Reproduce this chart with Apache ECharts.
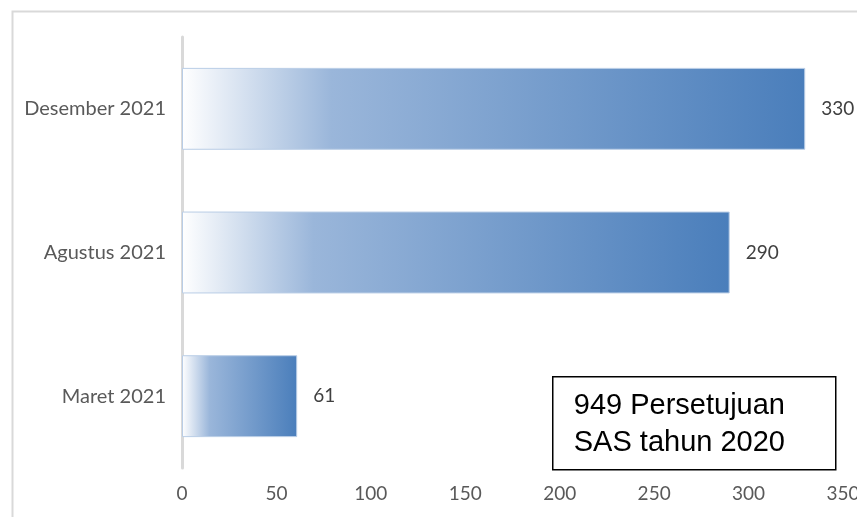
<!DOCTYPE html>
<html>
<head>
<meta charset="utf-8">
<script src="https://cdn.jsdelivr.net/npm/echarts@6/dist/echarts.min.js"></script>
<style>
  html, body { margin: 0; padding: 0; background: #fff; }
  #chart { width: 857px; height: 517px; }
</style>
</head>
<body>
<div id="chart"></div>
<script>
// data
var categories = ['Maret 2021', 'Agustus 2021', 'Desember 2021']
var values = [61, 290, 330]
var xTicks = [0, 50, 100, 150, 200, 250, 300, 350]
var noteLines = ['949 Persetujuan', 'SAS tahun 2020']

var labelFont = 'Lato, "Open Sans", sans-serif'

var barColor = new echarts.graphic.LinearGradient(0, 0, 1, 0, [
  { offset: 0, color: '#ffffff' },
  { offset: 0.24, color: '#9ab6da' },
  { offset: 1, color: '#4a7ebb' }
])

var chart = echarts.init(document.getElementById('chart'))
chart.setOption({
  backgroundColor: '#fff',
  animation: false,
  grid: { left: 182, right: 14, top: 37, bottom: 49, outerBoundsMode: 'none' },
  xAxis: {
    type: 'value',
    min: xTicks[0],
    max: xTicks[xTicks.length - 1],
    interval: 50,
    axisLine: { show: false },
    axisTick: { show: false },
    splitLine: { show: false },
    axisLabel: {
      color: '#595959',
      fontFamily: labelFont,
      fontSize: 19,
      margin: 16
    }
  },
  yAxis: {
    type: 'category',
    data: categories,
    axisLine: { show: true, lineStyle: { color: '#d9d9d9', width: 3 } },
    axisTick: { show: false },
    axisLabel: {
      color: '#595959',
      fontFamily: labelFont,
      fontSize: 20,
      margin: 16
    }
  },
  series: [
    {
      type: 'bar',
      data: values,
      barWidth: '57%',
      itemStyle: {
        color: barColor,
        borderColor: '#b9cde6',
        borderWidth: 1
      },
      label: {
        show: true,
        position: 'right',
        distance: 16,
        color: '#404040',
        fontFamily: labelFont,
        fontSize: 19
      }
    }
  ],
  graphic: [
    {
      type: 'rect',
      left: 10,
      top: 9,
      shape: { width: 900, height: 600 },
      style: { fill: 'none', stroke: '#d9d9d9', lineWidth: 2 },
      z: -1
    },
    {
      type: 'group',
      left: 552,
      top: 376,
      children: [
        {
          type: 'rect',
          shape: { x: 0, y: 0, width: 283, height: 93 },
          style: { fill: '#fff', stroke: '#000', lineWidth: 1.5 }
        },
        {
          type: 'text',
          x: 21,
          y: 11,
          style: {
            text: noteLines.join('\n'),
            font: '29px "Liberation Sans", Arial, sans-serif',
            lineHeight: 37,
            fill: '#000'
          }
        }
      ]
    }
  ]
})
</script>
</body>
</html>
